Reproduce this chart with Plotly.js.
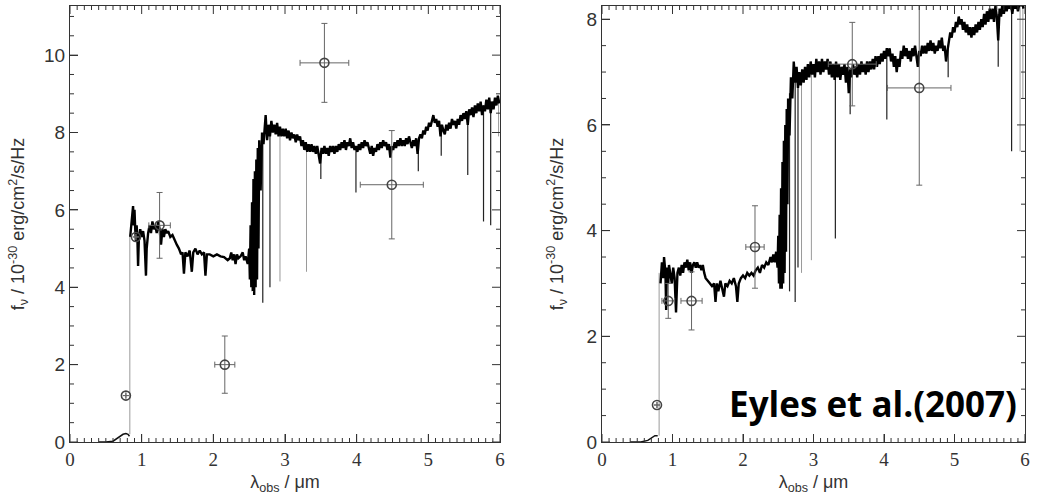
<!DOCTYPE html>
<html>
<head>
<meta charset="utf-8">
<script src="https://cdn.plot.ly/plotly-3.0.1.min.js"></script>
<style>html,body{margin:0;padding:0;background:#fff;}#chart{width:1048px;height:500px;}</style>
</head>
<body>
<div id="chart"></div>
<script>
// ---------- Left panel: model spectrum (µm, 1e-30 erg/cm2/s/Hz) ----------
var leftUVWave = [0.40, 0.50, 0.60, 0.65, 0.70, 0.74, 0.78, 0.81, 0.83];
var leftUVFlux = [0.00, 0.00, 0.02, 0.08, 0.15, 0.20, 0.22, 0.20, 0.15];

var leftWave = [0.84,0.86,0.88,0.89,0.90,0.91,0.92,0.93,0.94,0.95,0.96,0.98,1.00,1.02,1.04,1.06,1.07,1.09,1.11,1.13,1.15,1.17,1.19,1.21,1.23,1.25,1.27,1.29,1.31,1.33,1.35,1.37,1.40,1.43,1.46,1.49,1.52,1.55,1.57,1.59,1.61,1.64,1.67,1.70,1.72,1.75,1.78,1.81,1.84,1.87,1.89,1.91,1.95,2.00,2.05,2.10,2.15,2.20,2.23,2.25,2.27,2.29,2.31,2.33,2.35,2.38,2.41,2.43,2.45,2.48,2.50,2.51,2.52,2.53,2.54,2.55,2.56,2.57,2.58,2.59,2.60,2.61,2.62,2.63,2.64,2.66,2.68,2.70,2.73,2.75,2.77,2.79,2.81,2.83,2.85,2.87,2.89,2.91,2.93,2.95,2.97,2.99,3.01,3.03,3.05,3.07,3.09,3.11,3.13,3.15,3.17,3.19,3.21,3.23,3.25,3.27,3.29,3.31,3.33,3.35,3.37,3.39,3.41,3.43,3.45,3.47,3.49,3.51,3.53,3.55,3.57,3.59,3.61,3.63,3.65,3.67,3.69,3.71,3.73,3.75,3.77,3.79,3.81,3.83,3.85,3.87,3.89,3.91,3.93,3.95,3.97,3.99,4.01,4.03,4.05,4.07,4.09,4.11,4.13,4.15,4.17,4.19,4.21,4.23,4.25,4.27,4.29,4.31,4.33,4.35,4.37,4.39,4.41,4.43,4.45,4.47,4.49,4.51,4.53,4.55,4.57,4.59,4.61,4.63,4.65,4.67,4.69,4.71,4.73,4.75,4.77,4.79,4.81,4.83,4.85,4.87,4.89,4.91,4.93,4.95,4.97,4.99,5.01,5.03,5.05,5.07,5.09,5.11,5.13,5.15,5.17,5.19,5.21,5.23,5.25,5.27,5.29,5.31,5.33,5.35,5.37,5.39,5.41,5.43,5.45,5.47,5.49,5.51,5.53,5.55,5.57,5.59,5.61,5.63,5.65,5.67,5.69,5.71,5.73,5.75,5.77,5.79,5.81,5.83,5.85,5.87,5.89,5.91,5.93,5.95,5.97,5.99];
var leftFlux = [5.3,5.8,6.1,5.6,6.0,5.5,5.2,5.6,5.3,4.55,5.2,5.5,5.3,5.45,5.2,4.3,5.0,5.4,5.6,5.4,5.7,5.5,5.6,5.4,5.7,5.5,5.1,5.5,5.3,5.5,5.4,5.45,5.3,5.35,5.2,5.1,5.0,4.85,4.9,4.35,4.9,4.8,4.95,4.4,4.9,5.0,4.85,4.95,4.85,4.9,4.3,4.85,4.85,4.8,4.85,4.8,4.78,4.7,4.75,4.9,4.7,4.85,4.6,4.85,4.75,4.8,4.9,4.7,4.8,4.6,5.0,4.2,5.6,4.0,6.2,3.9,6.8,3.8,7.0,4.0,7.3,4.2,7.6,5.0,7.8,6.5,8.0,7.7,8.45,7.8,8.2,7.9,8.3,8.0,8.2,7.95,8.25,7.9,8.15,7.9,8.1,7.9,8.1,7.85,8.05,7.8,8.0,7.85,7.95,7.75,7.95,7.8,7.9,7.65,7.8,7.55,7.75,7.5,7.7,7.5,7.7,7.5,7.65,7.45,7.65,7.45,7.2,7.6,7.45,7.65,7.45,7.6,7.4,7.65,7.5,7.65,7.45,7.65,7.5,7.7,7.55,7.75,7.6,7.8,7.55,7.75,7.65,7.85,7.6,7.75,7.55,7.65,7.5,7.7,7.55,7.75,7.6,7.8,7.65,7.75,7.55,7.45,7.65,7.4,7.6,7.5,7.7,7.55,7.75,7.6,7.8,7.65,7.75,7.55,7.7,7.35,7.65,7.55,7.75,7.6,7.8,7.65,7.85,7.65,7.8,7.65,7.85,7.7,7.9,7.75,7.6,7.8,7.65,7.85,7.45,7.85,7.95,7.85,8.05,7.95,8.15,8.05,8.25,8.15,8.35,8.45,8.25,8.35,8.15,8.3,7.9,8.2,8.05,7.95,8.2,8.05,8.25,8.1,8.35,8.2,8.3,8.1,8.35,8.2,8.45,8.3,8.5,8.35,8.55,8.2,8.6,8.45,8.65,8.4,8.7,8.5,8.75,8.55,8.8,8.45,8.7,8.55,8.85,8.6,8.9,8.5,8.8,8.6,8.9,8.7,8.95,8.75];

// absorption features (line top / line bottom)
var leftDarkLineWave   = [2.69, 2.79, 3.50, 3.99, 4.86, 5.18, 5.55, 5.77, 5.87];
var leftDarkLineTop    = [7.9, 8.1, 7.5, 7.6, 7.8, 8.2, 8.3, 8.7, 8.8];
var leftDarkLineBottom = [3.6, 4.0, 6.8, 6.45, 7.0, 7.4, 6.9, 5.7, 5.6];
var leftGreyLineWave   = [0.835, 2.93, 3.30, 5.98];
var leftGreyLineTop    = [5.3, 8.0, 7.7, 8.9];
var leftGreyLineBottom = [0.2, 4.15, 4.4, 7.9];

// photometry
var leftPhotWave = [0.78, 0.92, 1.25, 2.16, 3.55, 4.49];
var leftPhotFlux = [1.2, 5.3, 5.6, 2.0, 9.8, 6.65];
var leftPhotWaveErr = [0, 0, 0.15, 0.14, 0.34, 0.44];
var leftPhotFluxErr = [0, 0, 0.85, 0.74, 1.02, 1.4];

// ---------- Right panel ----------
var rightUVWave = [0.40, 0.55, 0.65, 0.70, 0.75, 0.79];
var rightUVFlux = [0.00, 0.00, 0.03, 0.08, 0.12, 0.12];

var rightWave = [0.83,0.85,0.87,0.88,0.90,0.91,0.92,0.94,0.95,0.97,0.99,1.01,1.03,1.05,1.07,1.09,1.11,1.13,1.15,1.17,1.19,1.21,1.23,1.25,1.27,1.29,1.31,1.33,1.35,1.37,1.39,1.41,1.43,1.45,1.47,1.50,1.53,1.56,1.59,1.61,1.63,1.65,1.68,1.71,1.73,1.75,1.78,1.81,1.84,1.87,1.90,1.92,1.94,1.97,2.00,2.03,2.06,2.09,2.12,2.15,2.18,2.21,2.24,2.27,2.30,2.33,2.36,2.39,2.41,2.43,2.45,2.47,2.49,2.50,2.51,2.52,2.53,2.54,2.55,2.56,2.57,2.58,2.59,2.60,2.61,2.62,2.63,2.64,2.66,2.68,2.70,2.72,2.74,2.76,2.78,2.80,2.82,2.84,2.86,2.88,2.90,2.92,2.94,2.96,2.98,3.00,3.02,3.04,3.06,3.08,3.10,3.12,3.14,3.16,3.18,3.20,3.22,3.24,3.26,3.28,3.30,3.32,3.34,3.36,3.38,3.40,3.42,3.44,3.46,3.48,3.50,3.52,3.54,3.56,3.58,3.60,3.62,3.64,3.66,3.68,3.70,3.72,3.74,3.76,3.78,3.80,3.82,3.84,3.86,3.88,3.90,3.92,3.94,3.96,3.98,4.00,4.02,4.04,4.06,4.08,4.10,4.12,4.14,4.16,4.18,4.20,4.22,4.24,4.26,4.28,4.30,4.32,4.34,4.36,4.38,4.40,4.42,4.44,4.46,4.48,4.50,4.52,4.54,4.56,4.58,4.60,4.62,4.64,4.66,4.68,4.70,4.72,4.74,4.76,4.78,4.80,4.82,4.84,4.86,4.88,4.90,4.92,4.94,4.96,4.98,5.00,5.02,5.04,5.06,5.08,5.10,5.12,5.14,5.16,5.18,5.20,5.22,5.24,5.26,5.28,5.30,5.32,5.34,5.36,5.38,5.40,5.42,5.44,5.46,5.48,5.50,5.52,5.54,5.56,5.58,5.60,5.62,5.64,5.66,5.68,5.70,5.72,5.74,5.76,5.78,5.80,5.82,5.84,5.86,5.88,5.90,5.92,5.94,5.96,5.98];
var rightFlux = [3.0,3.4,3.1,3.5,3.2,2.5,3.3,3.0,3.35,3.2,3.0,3.3,3.1,2.45,3.2,3.3,3.15,3.35,3.2,3.4,3.3,3.45,3.25,3.4,3.2,3.35,3.4,3.3,3.4,3.3,3.35,3.25,3.35,3.2,3.1,3.05,3.0,2.95,3.0,2.65,3.0,2.85,3.05,2.9,2.75,3.0,2.95,3.05,3.0,3.1,2.95,2.65,3.0,3.1,3.15,3.1,3.2,3.15,3.2,3.15,3.25,3.3,3.2,3.35,3.3,3.4,3.35,3.5,3.4,3.55,3.4,3.6,3.3,3.9,3.0,4.3,2.9,4.8,2.9,5.3,3.0,5.7,3.2,6.0,3.6,6.3,4.5,6.5,5.8,6.9,6.5,7.2,6.8,7.1,6.7,7.0,6.75,7.05,6.8,7.1,6.85,7.15,6.9,7.2,6.95,7.15,6.9,7.25,7.0,7.2,6.95,7.25,7.0,7.2,7.05,7.25,6.95,7.2,6.9,7.15,6.85,7.2,6.9,7.15,6.85,7.1,6.95,7.15,6.8,7.1,6.6,7.05,6.9,7.15,6.95,7.1,6.9,7.15,6.95,7.2,7.0,7.15,6.95,7.2,7.0,7.2,7.05,7.25,7.05,7.3,7.1,7.3,7.15,7.35,7.2,7.4,7.25,7.45,7.3,7.45,7.2,7.35,7.1,7.3,7.0,7.25,7.1,7.4,7.25,7.5,7.3,7.45,7.25,7.4,7.2,7.45,7.3,7.5,7.3,7.1,7.4,7.3,7.5,7.35,7.5,7.35,7.55,7.4,7.6,7.4,7.55,7.35,7.5,7.4,7.6,7.45,7.65,7.4,7.5,7.2,7.4,7.55,7.75,7.65,7.85,7.75,7.95,7.85,8.05,7.9,8.0,7.8,7.95,7.75,7.9,7.7,7.85,7.65,7.85,7.7,7.9,7.75,7.95,7.8,8.0,7.85,8.1,7.9,8.15,7.95,8.2,8.0,8.2,7.95,8.25,8.05,7.6,8.2,8.05,8.3,8.1,8.3,8.15,8.3,8.2,8.3,8.1,8.3,8.2,8.3,8.15,8.3,8.25,8.3,8.2];

var rightDarkLineWave   = [2.66, 2.74, 2.78, 3.31, 3.52, 4.04, 4.91, 5.62, 5.81];
var rightDarkLineTop    = [6.6, 7.0, 7.0, 7.1, 7.0, 7.4, 7.5, 8.1, 8.3];
var rightDarkLineBottom = [2.85, 2.65, 3.3, 3.85, 6.2, 6.1, 6.9, 7.1, 5.5];
var rightGreyLineWave   = [0.81, 2.83, 2.97, 5.93, 5.97];
var rightGreyLineTop    = [3.2, 7.0, 7.1, 8.25, 8.25];
var rightGreyLineBottom = [0.12, 3.2, 3.44, 5.5, 6.5];

var rightPhotWave = [0.78, 0.94, 1.27, 2.17, 3.55, 4.50];
var rightPhotFlux = [0.7, 2.67, 2.67, 3.69, 7.15, 6.7];
var rightPhotWaveErr = [0, 0.09, 0.15, 0.13, 0.34, 0.45];
var rightPhotFluxErr = [0, 0.33, 0.55, 0.78, 0.79, 1.84];

// axis tick values (frame decoration)
var xMajorTickVals = [0, 1, 2, 3, 4, 5, 6];
var leftYMajorTickVals = [0, 2, 4, 6, 8, 10];
var rightYMajorTickVals = [0, 2, 4, 6, 8];

// ---------- helpers ----------
function segments(xs, tops, bottoms) {
  var x = [], y = [];
  for (var i = 0; i < xs.length; i++) {
    x.push(xs[i], xs[i], null);
    y.push(tops[i], bottoms[i], null);
  }
  return {x: x, y: y};
}

// inside tick marks on all four sides of a panel, in axis units
function frameTicks(xa, ya, yRange, yMajor, pxPerX, pxPerY) {
  var x = [], y = [];
  var i, v, len;
  for (i = 0; i <= 60; i++) {
    v = i / 10;
    len = (i % 10 === 0 ? 8 : 4) / pxPerY;
    x.push(v, v, null, v, v, null);
    y.push(yRange[0], yRange[0] + len, null, yRange[1], yRange[1] - len, null);
  }
  var nMinor = Math.floor(yRange[1] / 0.5);
  for (i = 0; i <= nMinor; i++) {
    v = i * 0.5;
    len = (yMajor.indexOf(v) >= 0 ? 8 : 4) / pxPerX;
    x.push(0, len, null, 6, 6 - len, null);
    y.push(v, v, null, v, v, null);
  }
  return {x: x, y: y, xaxis: xa, yaxis: ya, mode: 'lines', line: {color: '#333', width: 1}, hoverinfo: 'skip', showlegend: false};
}

function panelTraces(xa, ya, uvW, uvF, w, f, dW, dT, dB, gW, gT, gB, pW, pF, pWE, pFE) {
  var dark = segments(dW, dT, dB);
  var grey = segments(gW, gT, gB);
  return [
    {x: grey.x, y: grey.y, xaxis: xa, yaxis: ya, mode: 'lines', line: {color: '#9a9a9a', width: 1}, hoverinfo: 'skip', showlegend: false},
    {x: dark.x, y: dark.y, xaxis: xa, yaxis: ya, mode: 'lines', line: {color: '#222', width: 1.2}, hoverinfo: 'skip', showlegend: false},
    {x: uvW, y: uvF, xaxis: xa, yaxis: ya, mode: 'lines', line: {color: '#111', width: 1.5}, showlegend: false},
    {x: w, y: f, xaxis: xa, yaxis: ya, mode: 'lines', line: {color: '#000', width: 2.4}, showlegend: false},
    {x: pW, y: pF, xaxis: xa, yaxis: ya, mode: 'markers', showlegend: false,
     marker: {symbol: 'circle-open', size: 9, color: '#444', line: {width: 1.6, color: '#444'}},
     error_x: {type: 'data', array: pWE, color: '#666', thickness: 1, width: 3},
     error_y: {type: 'data', array: pFE, color: '#666', thickness: 1, width: 3}}
  ];
}

var leftYRange = [0, 11.27];
var rightYRange = [0, 8.25];

var traces = [].concat(
  panelTraces('x', 'y', leftUVWave, leftUVFlux, leftWave, leftFlux,
    leftDarkLineWave, leftDarkLineTop, leftDarkLineBottom,
    leftGreyLineWave, leftGreyLineTop, leftGreyLineBottom,
    leftPhotWave, leftPhotFlux, leftPhotWaveErr, leftPhotFluxErr),
  panelTraces('x2', 'y2', rightUVWave, rightUVFlux, rightWave, rightFlux,
    rightDarkLineWave, rightDarkLineTop, rightDarkLineBottom,
    rightGreyLineWave, rightGreyLineTop, rightGreyLineBottom,
    rightPhotWave, rightPhotFlux, rightPhotWaveErr, rightPhotFluxErr),
  [frameTicks('x', 'y', leftYRange, leftYMajorTickVals, 430 / 6, 436 / 11.27),
   frameTicks('x2', 'y2', rightYRange, rightYMajorTickVals, 423 / 6, 436 / 8.25)]
);

var yTitle = 'f<sub>ν</sub> / 10<sup>-30</sup> erg/cm<sup>2</sup>/s/Hz';
var xTitle = 'λ<sub>obs</sub> / μm';
var titleFont = {family: 'Liberation Sans, Arial, sans-serif', size: 18, color: '#333'};

function xAxis(domain, anchor) {
  return {
    domain: domain, anchor: anchor, range: [0, 6],
    tickmode: 'array', tickvals: xMajorTickVals, ticktext: xMajorTickVals.map(String),
    ticks: 'inside', ticklen: 8, tickcolor: '#333',
    showline: true, linecolor: '#333', mirror: true, showgrid: false, zeroline: false,
    tickfont: {family: 'Liberation Serif, serif', size: 19, color: '#333'},
    title: {text: xTitle, font: titleFont, standoff: 6}
  };
}
function yAxis(anchor, range, vals, standoff) {
  return {
    domain: [0, 1], anchor: anchor, range: range,
    tickmode: 'array', tickvals: vals, ticktext: vals.map(String),
    ticks: 'inside', ticklen: 8, tickcolor: '#333',
    showline: true, linecolor: '#333', mirror: true, showgrid: false, zeroline: false,
    tickfont: {family: 'Liberation Sans, Arial, sans-serif', size: 19, color: '#333'},
    title: {text: yTitle, font: titleFont, standoff: standoff}
  };
}

var layout = {
  width: 1048, height: 500,
  margin: {l: 70, r: 23, t: 6, b: 58},
  paper_bgcolor: '#fff', plot_bgcolor: '#fff',
  showlegend: false,
  xaxis: xAxis([0, 430 / 955], 'y'),
  yaxis: yAxis('x', leftYRange, leftYMajorTickVals, 14),
  xaxis2: xAxis([532 / 955, 1], 'y2'),
  yaxis2: yAxis('x2', rightYRange, rightYMajorTickVals, 18),
  title: {
    text: '<b>Eyles et al.(2007)</b>',
    xref: 'paper', yref: 'paper', x: 0.9916, y: 0.085, xanchor: 'right', yanchor: 'middle',
    font: {family: 'Open Sans, sans-serif', size: 35, color: '#000'}
  }
};

Plotly.newPlot('chart', traces, layout, {displayModeBar: false, staticPlot: true});
</script>
</body>
</html>
